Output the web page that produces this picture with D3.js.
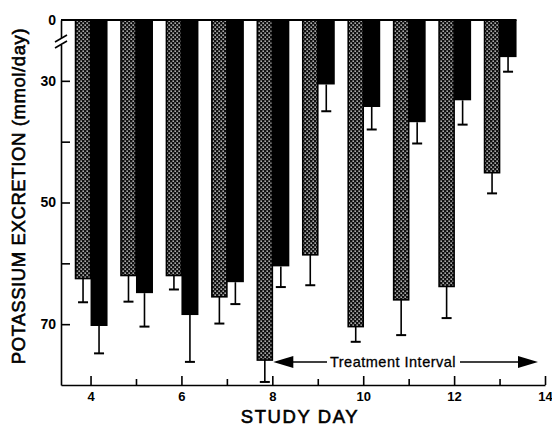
<!DOCTYPE html>
<html lang="en">
  <head>
    <meta charset="UTF-8" />
    <title>Potassium excretion by study day</title>
    <style>
      body { margin: 0; background: #fff; }
      svg { display: block; }
      .axis text {
        font-family: 'Liberation Sans', Arial, sans-serif;
        font-size: 13px;
        font-weight: bold;
        fill: #000;
      }
      .axis line, .axis path { stroke: #000; stroke-width: 1.6; }
      .title {
        font-family: 'Liberation Sans', Arial, sans-serif;
        fill: #000;
      }
    </style>
    <script src="https://d3js.org/d3.v7.min.js"></script>
  </head>
  <body>
    <svg width="552" height="430"></svg>
    <script>
      // study days with paired bars
      var days = [4, 5, 6, 7, 8, 9, 10, 11, 12, 13]
      // stippled bars (mmol/day) and their error bar lengths
      var stippledMean = [62.5, 62.0, 62.0, 65.5, 75.9, 58.6, 70.4, 66.0, 63.8, 45.1]
      var stippledErr = [3.9, 4.3, 2.3, 4.4, 3.6, 5.0, 2.5, 5.8, 5.2, 3.4]
      // solid bars
      var solidMean = [70.3, 64.9, 68.5, 63.1, 60.5, 30.6, 34.3, 36.8, 33.2, 26.1]
      var solidErr = [4.5, 5.5, 7.7, 3.6, 3.4, 4.4, 3.7, 3.5, 4.0, 2.4]
      // axis ticks (the top of the axis is broken, its "0" sits at the 20 position)
      var yTicks = [20, 30, 40, 50, 60, 70]
      var yLabels = { 20: '0', 30: '30', 50: '50', 70: '70' }
      var xTicks = [4, 5, 6, 7, 8, 9, 10, 11, 12, 13, 14]

      var svg = d3.select('svg')

      var x = d3.scaleLinear().domain([3.35, 14]).range([61, 545])
      var y = d3.scaleLinear().domain([20, 80]).range([20, 385])

      // stipple pattern
      var pat = svg.append('defs').append('pattern')
        .attr('id', 'stipple')
        .attr('patternUnits', 'userSpaceOnUse')
        .attr('width', 4).attr('height', 4)
      pat.append('rect').attr('width', 4).attr('height', 4).attr('fill', '#111')
      pat.append('rect').attr('x', 0.5).attr('y', 0.5).attr('width', 1.3).attr('height', 1.3).attr('fill', '#fff')
      pat.append('rect').attr('x', 2.5).attr('y', 2.5).attr('width', 1.3).attr('height', 1.3).attr('fill', '#fff')

      var rows = days.map(function(d, i) {
        return { day: d, sm: stippledMean[i], se: stippledErr[i], bm: solidMean[i], be: solidErr[i] }
      })

      var wS = 15, wB = 17

      var g = svg.append('g')

      // stippled bars
      g.selectAll('.bs')
        .data(rows)
        .enter()
        .append('rect')
        .attr('x', function(d) { return x(d.day) - wS })
        .attr('y', y(20))
        .attr('width', wS)
        .attr('height', function(d) { return y(d.sm) - y(20) })
        .attr('fill', 'url(#stipple)')
        .attr('stroke', '#000')
        .attr('stroke-width', 1.6)

      // solid bars
      g.selectAll('.bb')
        .data(rows)
        .enter()
        .append('rect')
        .attr('x', function(d) { return x(d.day) })
        .attr('y', y(20))
        .attr('width', wB)
        .attr('height', function(d) { return y(d.bm) - y(20) })
        .attr('fill', '#000')

      // error bars (downward only)
      function errBars(cls, cx, mean, err) {
        var e = g.selectAll('.' + cls).data(rows).enter().append('g').attr('class', cls)
        e.append('line')
          .attr('x1', cx).attr('x2', cx)
          .attr('y1', function(d) { return y(mean(d)) })
          .attr('y2', function(d) { return y(mean(d) + err(d)) })
          .attr('stroke', '#000').attr('stroke-width', 1.6)
        e.append('line')
          .attr('x1', function(d) { return cx(d) - 5 })
          .attr('x2', function(d) { return cx(d) + 5 })
          .attr('y1', function(d) { return y(mean(d) + err(d)) })
          .attr('y2', function(d) { return y(mean(d) + err(d)) })
          .attr('stroke', '#000').attr('stroke-width', 2)
      }
      errBars('es', function(d) { return x(d.day) - wS / 2 }, function(d) { return d.sm }, function(d) { return d.se })
      errBars('eb', function(d) { return x(d.day) + wB / 2 }, function(d) { return d.bm }, function(d) { return d.be })

      // top baseline at 0
      g.append('line')
        .attr('x1', x.range()[0]).attr('x2', x(13) + wB)
        .attr('y1', y(20)).attr('y2', y(20))
        .attr('stroke', '#000').attr('stroke-width', 2)

      // y axis, ticks pointing inward
      var yAxis = d3.axisLeft(y)
        .tickValues(yTicks)
        .tickSizeInner(-9)
        .tickSizeOuter(0)
        .tickPadding(5)
        .tickFormat(function(d) { return yLabels[d] || '' })
      var ya = svg.append('g')
        .attr('class', 'axis')
        .attr('transform', 'translate(' + x.range()[0] + ',0)')
        .call(yAxis)
      ya.selectAll('.tick').filter(function(d) { return d === 20 }).select('line').remove()
      ya.selectAll('.tick text').style('font-size', '14px')

      // axis break
      ya.append('rect').attr('x', -3).attr('y', 38).attr('width', 6).attr('height', 7).attr('fill', '#fff')
      ya.append('line').attr('x1', -6).attr('y1', 42).attr('x2', 6).attr('y2', 35)
        .attr('stroke', '#000').attr('stroke-width', 1.6)
      ya.append('line').attr('x1', -6).attr('y1', 48).attr('x2', 6).attr('y2', 41)
        .attr('stroke', '#000').attr('stroke-width', 1.6)

      // x axis, ticks pointing up
      var xAxis = d3.axisBottom(x)
        .tickValues(xTicks)
        .tickSizeInner(-9)
        .tickSizeOuter(0)
        .tickPadding(7)
        .tickFormat(function(d) { return d % 2 === 0 ? d : '' })
      var xa = svg.append('g')
        .attr('class', 'axis')
        .attr('transform', 'translate(0,' + y.range()[1] + ')')
        .call(xAxis)
      xa.selectAll('.tick').filter(function(d) { return d % 2 === 1 }).select('line').attr('y2', -6)
      xa.select('.domain').attr('stroke-width', 2)
      ya.select('.domain').attr('stroke-width', 1.8)

      // axis titles
      svg.append('text')
        .attr('class', 'title')
        .attr('x', 300).attr('y', 423)
        .attr('text-anchor', 'middle')
        .style('font-size', '18.5px')
        .style('letter-spacing', '1.6px')
        .attr('stroke', '#000').attr('stroke-width', 0.6)
        .text('STUDY DAY')

      svg.append('text')
        .attr('class', 'title')
        .attr('transform', 'translate(25,196) rotate(-90)')
        .attr('text-anchor', 'middle')
        .style('font-size', '18.5px')
        .style('letter-spacing', '0.6px')
        .attr('stroke', '#000').attr('stroke-width', 0.6)
        .text('POTASSIUM EXCRETION (mmol/day)')

      // treatment interval annotation
      var ay = 362
      var ann = svg.append('g')
      var lt = x(8) + 1, rt = x(14) - 7
      ann.append('path')
        .attr('d', 'M' + lt + ',' + ay + 'l20,-6l0,12z')
        .attr('fill', '#000')
      ann.append('path')
        .attr('d', 'M' + rt + ',' + ay + 'l-20,-6l0,12z')
        .attr('fill', '#000')
      ann.append('line').attr('x1', lt + 18).attr('x2', 327).attr('y1', ay).attr('y2', ay)
        .attr('stroke', '#000').attr('stroke-width', 1.6)
      ann.append('line').attr('x1', 460).attr('x2', rt - 18).attr('y1', ay).attr('y2', ay)
        .attr('stroke', '#000').attr('stroke-width', 1.6)
      ann.append('text')
        .attr('class', 'title')
        .attr('x', 393).attr('y', ay + 5)
        .attr('text-anchor', 'middle')
        .style('font-size', '14.5px')
        .style('letter-spacing', '0.5px')
        .attr('stroke', '#000').attr('stroke-width', 0.3)
        .text('Treatment Interval')
    </script>
  </body>
</html>
